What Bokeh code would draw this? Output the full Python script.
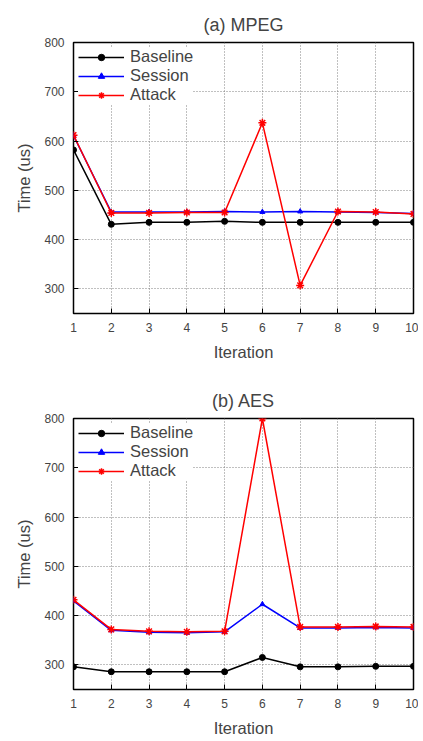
from bokeh.plotting import figure
from bokeh.models import FixedTicker, Range1d, Legend, LegendItem
from bokeh.layouts import column
from bokeh.embed import file_html
from bokeh.resources import INLINE

iterations = [1, 2, 3, 4, 5, 6, 7, 8, 9, 10]
mpeg_baseline = [582, 431, 435, 435, 437, 435, 435, 435, 435, 435]
mpeg_session = [611, 456, 456, 456, 457, 456, 457, 456, 455, 453]
mpeg_attack = [612, 454, 454, 455, 455, 637, 307, 457, 456, 452]
aes_baseline = [296, 286, 286, 286, 286, 315, 296, 296, 297, 297]
aes_session = [430, 370, 366, 365, 367, 423, 375, 375, 376, 375]
aes_attack = [432, 372, 368, 367, 368, 800, 377, 377, 378, 377]
x_ticks = [1, 2, 3, 4, 5, 6, 7, 8, 9, 10]
y_ticks = [300, 400, 500, 600, 700, 800]
series_names = ["Baseline", "Session", "Attack"]
titles = ["(a) MPEG", "(b) AES"]
x_label = "Iteration"
y_label = "Time (us)"

FONT = "Liberation Sans"


def make_plot(title, baseline, session, attack, height, top, bottom, standoff):
    p = figure(width=418, height=height, output_backend="svg", toolbar_location=None,
               x_range=Range1d(1, 10), y_range=Range1d(250, 800),
               min_border_left=73, min_border_right=5,
               min_border_top=top, min_border_bottom=bottom)
    p.title.text = title
    p.title.align = "center"
    p.title.text_font = FONT
    p.title.text_font_size = "18px"
    p.title.text_font_style = "normal"
    p.title.standoff = standoff
    p.outline_line_color = "black"
    p.outline_line_width = 1.5
    p.background_fill_color = "white"
    p.border_fill_color = "white"

    for ax in (p.xaxis[0], p.yaxis[0]):
        ax.major_tick_in = 5
        ax.major_tick_out = 0
        ax.minor_tick_in = 0
        ax.minor_tick_out = 0
        ax.axis_line_color = None
        ax.major_tick_line_color = "black"
        ax.major_label_text_font = FONT
        ax.major_label_text_font_size = "12px"
        ax.major_label_standoff = 9
        ax.axis_label_text_font = FONT
        ax.axis_label_text_font_size = "16.5px"
        ax.axis_label_text_font_style = "normal"
        ax.axis_label_standoff = 8
    p.xaxis.ticker = FixedTicker(ticks=x_ticks)
    p.yaxis.ticker = FixedTicker(ticks=y_ticks)
    p.xaxis.axis_label = x_label
    p.yaxis.axis_label = y_label

    p.xgrid.ticker = FixedTicker(ticks=x_ticks)
    p.ygrid.ticker = FixedTicker(ticks=y_ticks)
    for g in (p.xgrid[0], p.ygrid[0]):
        g.grid_line_color = "#808080"
        g.grid_line_dash = "1 2"
        g.grid_line_width = 1

    l1 = p.line(iterations, baseline, line_color="black", line_width=1.5)
    m1 = p.scatter(iterations, baseline, marker="circle", size=6, color="black")
    l2 = p.line(iterations, session, line_color="blue", line_width=1.5)
    m2 = p.scatter(iterations, session, marker="triangle", size=5, color="blue")
    l3 = p.line(iterations, attack, line_color="red", line_width=1.5)
    m3 = p.scatter(iterations, attack, marker="asterisk", size=8, line_color="red", line_width=1.5)
    items = [
        LegendItem(label=series_names[0], renderers=[l1, m1]),
        LegendItem(label=series_names[1], renderers=[l2, m2]),
        LegendItem(label=series_names[2], renderers=[l3, m3]),
    ]
    leg = Legend(items=items, location="top_left", border_line_color=None,
                 background_fill_color="white", background_fill_alpha=1.0,
                 label_text_font=FONT, label_text_font_size="16.5px",
                 glyph_width=46, glyph_height=16, label_height=16,
                 spacing=0, padding=3, margin=5, label_standoff=6)
    p.add_layout(leg)
    return p


p1 = make_plot(titles[0], mpeg_baseline, mpeg_session, mpeg_attack, 368, 42, 55, 16)
p2 = make_plot(titles[1], aes_baseline, aes_session, aes_attack, 372, 50, 51, 15)
layout = column(p1, p2, spacing=0)

open("out.html", "w").write(file_html(layout, INLINE))
